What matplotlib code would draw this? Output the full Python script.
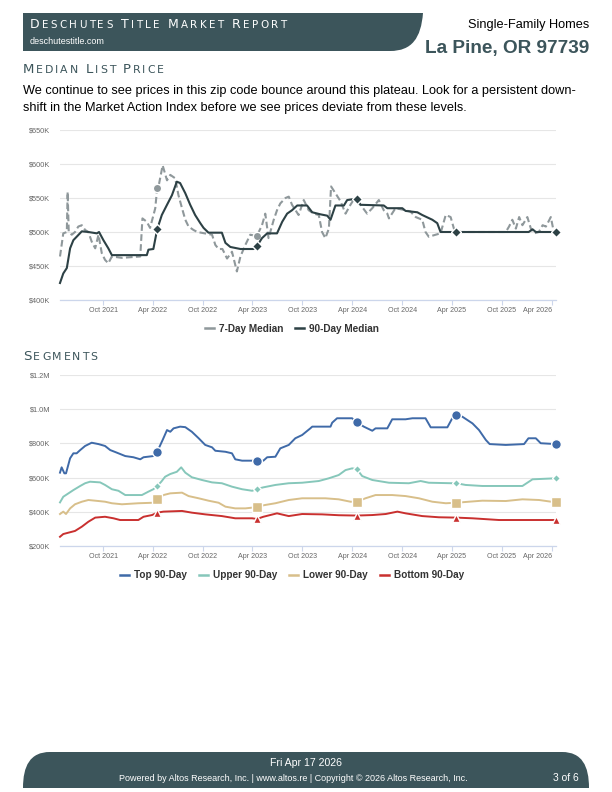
import matplotlib
matplotlib.use("Agg")
import matplotlib.pyplot as plt
from matplotlib.patches import PathPatch
from matplotlib.path import Path
from matplotlib.lines import Line2D
import pandas as pd

# ---------------- data ----------------
MARK_DATES = ["2022-04-17", "2023-04-17", "2024-04-17", "2025-04-17", "2026-04-17"]
X_TICKS = ["2021-10-01", "2022-04-01", "2022-10-01", "2023-04-01", "2023-10-01",
           "2024-04-01", "2024-10-01", "2025-04-01", "2025-10-01", "2026-04-01"]
X_TICK_LABELS = ["Oct 2021", "Apr 2022", "Oct 2022", "Apr 2023", "Oct 2023",
                 "Apr 2024", "Oct 2024", "Apr 2025", "Oct 2025", "Apr 2026"]

# Median list price (thousands of $)
d90_dates = ["2021-04-26", "2021-05-08", "2021-05-21", "2021-06-02", "2021-06-14", "2021-06-26",
             "2021-07-15", "2021-08-08", "2021-09-08", "2021-09-16", "2021-10-02", "2021-10-20",
             "2021-11-02", "2022-03-10", "2022-03-16", "2022-04-03", "2022-04-17", "2022-05-04",
             "2022-05-23", "2022-06-10", "2022-06-28", "2022-07-10", "2022-07-29", "2022-08-16",
             "2022-09-03", "2022-09-22", "2022-10-04", "2022-10-22", "2022-12-10", "2022-12-23",
             "2023-01-10", "2023-02-16", "2023-04-05", "2023-04-17", "2023-05-06", "2023-05-25",
             "2023-06-30", "2023-07-19", "2023-08-06", "2023-08-24", "2023-09-12", "2023-10-18",
             "2023-11-06", "2023-12-06", "2023-12-31", "2024-01-12", "2024-01-30", "2024-03-01",
             "2024-03-13", "2024-04-17", "2024-05-01", "2024-07-25", "2024-08-07", "2024-10-01",
             "2024-10-13", "2024-11-25", "2024-12-13", "2025-01-19", "2025-02-06", "2025-02-18",
             "2025-03-21", "2025-04-17", "2026-01-07", "2026-01-21", "2026-02-02", "2026-04-17"]
d90_vals = [425, 439, 447, 476, 488, 493, 501, 500, 498, 500, 488, 476, 466, 466, 474, 475, 504, 525,
            540, 554, 574, 572, 557, 540, 525, 513, 506, 499, 499, 484, 478, 475, 475, 479, 491, 498,
            498, 515, 527, 532, 539, 539, 529, 526, 524, 518, 539, 539, 547, 549, 540, 539, 535, 535,
            531, 529, 525, 518, 513, 500, 500, 500, 500, 504, 500, 500]

d7_dates = ["2021-04-26", "2021-05-08", "2021-05-21", "2021-05-24", "2021-05-28", "2021-06-08",
            "2021-06-20", "2021-07-02", "2021-07-15", "2021-07-27", "2021-08-08", "2021-08-20",
            "2021-09-02", "2021-09-14", "2021-09-26", "2021-10-08", "2021-10-20", "2021-11-02",
            "2021-12-09", "2022-02-14", "2022-02-22", "2022-03-10", "2022-03-22", "2022-04-10",
            "2022-04-17", "2022-04-22", "2022-05-07", "2022-05-23", "2022-06-04", "2022-06-22",
            "2022-07-04", "2022-07-17", "2022-07-29", "2022-08-10", "2022-08-28", "2022-09-11",
            "2022-11-04", "2022-11-16", "2022-11-28", "2022-12-12", "2022-12-29", "2023-01-16",
            "2023-02-03", "2023-02-16", "2023-03-06", "2023-03-24", "2023-04-17", "2023-05-06",
            "2023-05-18", "2023-05-30", "2023-06-18", "2023-06-30", "2023-07-12", "2023-07-31",
            "2023-08-12", "2023-08-24", "2023-09-17", "2023-10-06", "2023-10-24", "2023-11-12",
            "2023-11-30", "2023-12-12", "2023-12-24", "2024-01-06", "2024-01-14", "2024-01-30",
            "2024-02-18", "2024-03-07", "2024-03-25", "2024-04-05", "2024-05-01", "2024-05-25",
            "2024-06-13", "2024-07-07", "2024-07-25", "2024-08-07", "2024-08-13", "2024-09-06",
            "2024-10-13", "2024-10-31", "2024-11-19", "2024-12-13", "2024-12-25", "2025-01-06",
            "2025-01-31", "2025-02-18", "2025-03-09", "2025-03-27", "2025-04-08", "2025-05-03",
            "2025-10-15", "2025-10-27", "2025-11-08", "2025-11-21", "2025-12-03", "2025-12-15",
            "2026-01-02", "2026-01-15", "2026-01-27", "2026-02-13", "2026-02-27", "2026-03-11",
            "2026-03-29", "2026-04-09"]
d7_vals = [464, 498, 500, 559, 500, 496, 500, 508, 510, 503, 500, 486, 476, 496, 469, 459, 454, 464,
           462, 464, 520, 515, 506, 535, 565, 567, 598, 576, 584, 579, 554, 535, 518, 508, 503, 500,
           496, 481, 475, 475, 461, 471, 442, 464, 481, 496, 494, 510, 527, 491, 518, 532, 542, 550,
           552, 540, 525, 547, 532, 527, 525, 500, 491, 505, 567, 557, 545, 527, 540, 547, 540, 527,
           535, 547, 532, 527, 520, 535, 532, 530, 522, 518, 500, 493, 496, 498, 525, 522, 505, 500,
           500, 508, 518, 505, 522, 510, 522, 505, 498, 500, 510, 508, 522, 500]
d7_mark_dates = ["2022-04-17", "2023-04-17"]

# Segments (thousands of $)
top_dates = ["2021-04-26", "2021-05-02", "2021-05-12", "2021-05-18", "2021-06-02", "2021-06-14",
             "2021-06-26", "2021-07-09", "2021-07-27", "2021-08-20", "2021-09-14", "2021-10-08",
             "2021-10-27", "2021-11-20", "2021-12-21", "2022-01-20", "2022-02-14", "2022-02-26",
             "2022-04-03", "2022-04-17", "2022-05-07", "2022-05-23", "2022-06-04", "2022-06-16",
             "2022-07-10", "2022-07-29", "2022-08-22", "2022-09-16", "2022-10-10", "2022-11-04",
             "2022-11-16", "2022-12-23", "2023-01-16", "2023-01-28", "2023-02-22", "2023-03-31",
             "2023-04-17", "2023-05-11", "2023-05-25", "2023-06-24", "2023-07-12", "2023-08-12",
             "2023-09-05", "2023-09-30", "2023-10-30", "2023-11-06", "2024-01-12", "2024-01-18",
             "2024-02-05", "2024-03-31", "2024-04-17", "2024-05-13", "2024-06-13", "2024-06-25",
             "2024-08-07", "2024-08-25", "2024-10-13", "2024-11-07", "2024-12-25", "2025-01-13",
             "2025-03-15", "2025-04-02", "2025-04-17", "2025-05-09", "2025-06-15", "2025-07-09",
             "2025-08-03", "2025-08-17", "2025-10-15", "2025-12-21", "2026-01-06", "2026-02-02",
             "2026-02-20", "2026-04-17"]
top_vals = [629, 660, 625, 625, 713, 742, 742, 761, 785, 804, 796, 785, 761, 746, 726, 719, 707, 719,
            726, 751, 820, 878, 868, 888, 898, 895, 868, 830, 791, 777, 757, 751, 742, 707, 699, 699,
            699, 699, 719, 722, 771, 791, 830, 849, 888, 898, 898, 921, 947, 947, 923, 898, 874, 888,
            888, 941, 941, 947, 947, 894, 894, 947, 966, 956, 917, 878, 820, 796, 791, 796, 830, 830,
            801, 796]

upper_dates = ["2021-04-26", "2021-05-08", "2021-05-27", "2021-06-14", "2021-07-09", "2021-07-27",
               "2021-08-14", "2021-09-20", "2021-10-08", "2021-11-02", "2021-11-26", "2021-12-21",
               "2022-02-20", "2022-03-16", "2022-04-03", "2022-04-17", "2022-05-02", "2022-05-16",
               "2022-06-04", "2022-06-28", "2022-07-14", "2022-07-29", "2022-08-22", "2022-09-28",
               "2022-11-04", "2022-12-10", "2023-01-16", "2023-02-22", "2023-03-31", "2023-04-17",
               "2023-05-11", "2023-06-24", "2023-08-12", "2023-09-30", "2023-11-30", "2024-01-06",
               "2024-02-11", "2024-03-07", "2024-03-31", "2024-04-17", "2024-05-07", "2024-06-13",
               "2024-08-13", "2024-10-25", "2024-12-07", "2025-01-06", "2025-04-02", "2025-04-17",
               "2025-05-21", "2025-07-21", "2025-12-15", "2026-01-21", "2026-04-17"]
upper_vals = [455, 488, 508, 527, 551, 567, 576, 572, 557, 532, 523, 498, 498, 518, 532, 551, 576,
              605, 621, 634, 660, 629, 602, 586, 572, 567, 547, 532, 523, 533, 543, 557, 567, 570,
              580, 596, 615, 644, 654, 650, 609, 586, 570, 567, 580, 570, 567, 567, 557, 551, 551,
              590, 596]

lower_dates = ["2021-04-26", "2021-05-08", "2021-05-18", "2021-06-02", "2021-06-20", "2021-07-15",
               "2021-08-08", "2021-09-14", "2021-10-08", "2021-11-02", "2021-12-09", "2022-02-07",
               "2022-04-03", "2022-04-17", "2022-05-10", "2022-06-04", "2022-07-17", "2022-08-10",
               "2022-09-16", "2022-10-22", "2022-11-28", "2022-12-23", "2023-01-28", "2023-03-06",
               "2023-04-04", "2023-04-17", "2023-05-18", "2023-06-24", "2023-08-12", "2023-09-30",
               "2023-12-24", "2024-02-11", "2024-03-25", "2024-04-17", "2024-05-19", "2024-06-25",
               "2024-08-25", "2024-10-13", "2024-12-01", "2025-01-19", "2025-03-09", "2025-04-17",
               "2025-06-02", "2025-07-21", "2025-10-15", "2025-12-15", "2026-02-14", "2026-04-17"]
lower_vals = [387, 401, 387, 420, 444, 459, 469, 463, 459, 450, 444, 450, 453, 473, 498, 508, 512,
              492, 479, 465, 453, 430, 420, 420, 425, 430, 440, 450, 469, 479, 479, 473, 459, 459,
              479, 498, 498, 492, 479, 459, 450, 453, 459, 465, 463, 473, 469, 455]

bottom_dates = ["2021-04-26", "2021-05-08", "2021-05-27", "2021-06-20", "2021-07-15", "2021-08-08",
                "2021-09-02", "2021-10-08", "2021-11-08", "2021-12-02", "2022-02-07", "2022-02-26",
                "2022-03-29", "2022-04-17", "2022-05-10", "2022-07-17", "2022-08-22", "2022-10-10",
                "2022-12-10", "2023-01-28", "2023-03-31", "2023-04-17", "2023-05-11", "2023-06-30",
                "2023-08-12", "2023-09-30", "2023-12-12", "2024-02-11", "2024-04-17", "2024-06-13",
                "2024-08-01", "2024-09-13", "2024-10-13", "2024-12-13", "2025-02-12", "2025-04-17",
                "2025-06-15", "2025-09-20", "2026-04-17"]
bottom_vals = [254, 270, 278, 288, 313, 342, 366, 371, 362, 352, 352, 371, 381, 395, 401, 405, 395,
               385, 375, 362, 362, 358, 371, 391, 375, 387, 385, 380, 378, 381, 387, 401, 391, 375,
               368, 366, 362, 352, 352]

# ---------------- style ----------------
W, H = 612, 792
SLATE = "#3c555b"
C7 = "#8f989b"
C90 = "#2d4145"
C_TOP, C_UP, C_LOW, C_BOT = "#3f6aa8", "#86c7ba", "#d8bf8a", "#c9302f"
GRID = "#e6e6e6"
AXC = "#ccd6eb"
SANS = "Liberation Sans"
CAPS = "DejaVu Sans"

fig = plt.figure(figsize=(W / 100, H / 100), dpi=100)
bg = fig.add_axes([0, 0, 1, 1])
bg.set_xlim(0, W)
bg.set_ylim(H, 0)
bg.axis("off")
renderer = fig.canvas.get_renderer()

# header banner
hv = [(23, 13), (423, 13), (421, 38), (412, 51), (390, 51), (23, 51), (23, 13)]
hc = [Path.MOVETO, Path.LINETO, Path.CURVE4, Path.CURVE4, Path.CURVE4, Path.LINETO, Path.CLOSEPOLY]
bg.add_patch(PathPatch(Path(hv, hc), facecolor=SLATE, edgecolor="none"))

# footer banner
fv = [(23, 788), (23, 766), (30, 752), (50, 752), (562, 752), (582, 752), (589, 766), (589, 788),
      (23, 788)]
fc = [Path.MOVETO, Path.CURVE4, Path.CURVE4, Path.CURVE4, Path.LINETO, Path.CURVE4, Path.CURVE4,
      Path.CURVE4, Path.CLOSEPOLY]
bg.add_patch(PathPatch(Path(fv, fc), facecolor=SLATE, edgecolor="none"))

_adv_cache = {}


def advance(ch, size):
    key = (ch, size)
    if key not in _adv_cache:
        t1 = bg.text(0, 0, "H" + ch + "H", fontsize=size, family=CAPS)
        t2 = bg.text(0, 0, "HH", fontsize=size, family=CAPS)
        w = t1.get_window_extent(renderer).width - t2.get_window_extent(renderer).width
        t1.remove()
        t2.remove()
        _adv_cache[key] = w
    return _adv_cache[key]


def smallcaps(x, y, s, big, ratio, color, track):
    cx = x
    for ch in s:
        if ch == " ":
            cx += advance(" ", big) + track
            continue
        size = big * ratio if (ch.isalpha() and ch.islower()) else big
        c = ch.upper()
        bg.text(cx, y, c, fontsize=size, color=color, family=CAPS, va="baseline", ha="left")
        cx += advance(c, size) + track


smallcaps(30, 28, "Deschutes Title Market Report", 9.0, 0.82, "white", 2.3)
bg.text(30, 43.5, "deschutestitle.com", fontsize=6.5, color="white", family=SANS, va="baseline")
bg.text(589, 28, "Single-Family Homes", fontsize=9.2, color="black", family=SANS,
        ha="right", va="baseline")
bg.text(589, 53.5, "La Pine, OR 97739", fontsize=13.7, color=SLATE, family=SANS,
        weight="bold", ha="right", va="baseline")

smallcaps(23, 73, "Median List Price", 9.6, 0.82, SLATE, 1.8)
bg.text(23, 94, "We continue to see prices in this zip code bounce around this plateau. "
        "Look for a persistent down-", fontsize=9.22, family=SANS, va="baseline", color="black")
bg.text(23, 111.5, "shift in the Market Action Index before we see prices deviate from these levels.",
        fontsize=9.22, family=SANS, va="baseline", color="black")
smallcaps(23, 359.5, "Segments", 9.6, 0.82, SLATE, 1.8)

bg.text(306, 766, "Fri Apr 17 2026", fontsize=7.6, color="white", family=SANS,
        ha="center", va="baseline")
bg.text(293, 781, "Powered by Altos Research, Inc. | www.altos.re | Copyright \u00a9 2026 Altos Research, Inc.",
        fontsize=6.5, color="white", family=SANS, ha="center", va="baseline")
bg.text(579, 781, "3 of 6", fontsize=7.4, color="white", family=SANS, ha="right", va="baseline")

xmin = pd.Timestamp(d90_dates[0])
xmax = pd.Timestamp(d90_dates[-1])
xt = pd.to_datetime(X_TICKS)


def style_axes(ax, ylo, yhi, ystep, fmt):
    ax.set_xlim(xmin, xmax)
    ax.set_ylim(ylo, yhi)
    yt = list(range(ylo, yhi + 1, ystep))
    ax.set_yticks(yt)
    ax.set_yticklabels([fmt(v) for v in yt])
    ax.set_xticks(xt)
    ax.set_xticklabels(X_TICK_LABELS)
    for sp in ["top", "right", "left"]:
        ax.spines[sp].set_visible(False)
    ax.spines["bottom"].set_color(AXC)
    ax.spines["bottom"].set_linewidth(0.9)
    ax.grid(axis="y", color=GRID, lw=0.8)
    ax.set_axisbelow(True)
    ax.tick_params(axis="y", length=0, pad=7, labelsize=5.3, labelcolor="#666666")
    ax.tick_params(axis="x", length=3.6, width=0.8, color=AXC, pad=1.5, labelsize=5.1,
                   labelcolor="#666666")
    for lab in ax.get_xticklabels() + ax.get_yticklabels():
        lab.set_family(SANS)
    ax.get_xticklabels()[-1].set_ha("right")
    ax.patch.set_alpha(0)


def idx_of(dates, marks):
    return [i for i, d in enumerate(dates) if d in marks]


# ---------------- chart 1 ----------------
ax1 = fig.add_axes([60 / W, 1 - 300 / H, 496 / W, 170 / H])
style_axes(ax1, 400, 650, 50, lambda v: f"${v}K")
ax1.plot(pd.to_datetime(d7_dates), d7_vals, color=C7, lw=1.5, ls=(0, (3.2, 1.6)),
         marker="o", ms=6, mfc=C7, mec="white", mew=1.0,
         markevery=idx_of(d7_dates, d7_mark_dates), clip_on=False, zorder=3)
ax1.plot(pd.to_datetime(d90_dates), d90_vals, color=C90, lw=1.5,
         marker="D", ms=5, mfc=C90, mec="white", mew=1.0,
         markevery=idx_of(d90_dates, MARK_DATES), clip_on=False, zorder=4)

leg1 = [Line2D([], [], color=C7, lw=1.8), Line2D([], [], color=C90, lw=1.8)]
fig.legend(leg1, ["7-Day Median", "90-Day Median"], loc="center",
           bbox_to_anchor=(292 / W, 1 - 328.5 / H), ncol=2, frameon=False,
           handlelength=0.9, handletextpad=0.5, columnspacing=1.2,
           prop={"family": SANS, "weight": "bold", "size": 7.2}, labelcolor="#333333")

# ---------------- chart 2 ----------------
ax2 = fig.add_axes([60 / W, 1 - 546 / H, 496 / W, 171 / H])
style_axes(ax2, 200, 1200, 200, lambda v: f"${v}K" if v < 1000 else f"${v / 1000:.1f}M")
series = [
    (top_dates, top_vals, C_TOP, "o", 7, "Top 90-Day"),
    (upper_dates, upper_vals, C_UP, "D", 4.5, "Upper 90-Day"),
    (lower_dates, lower_vals, C_LOW, "s", 6.5, "Lower 90-Day"),
    (bottom_dates, bottom_vals, C_BOT, "^", 6, "Bottom 90-Day"),
]
handles = []
for dts, vals, col, mk, ms, name in series:
    ax2.plot(pd.to_datetime(dts), vals, color=col, lw=1.4, marker=mk, ms=ms, mfc=col,
             mec="white", mew=1.0, markevery=idx_of(dts, MARK_DATES), clip_on=False, zorder=3)
    handles.append(Line2D([], [], color=col, lw=1.8))
fig.legend(handles, [s[5] for s in series], loc="center",
           bbox_to_anchor=(292 / W, 1 - 575 / H), ncol=4, frameon=False,
           handlelength=0.9, handletextpad=0.5, columnspacing=1.2,
           prop={"family": SANS, "weight": "bold", "size": 7.2}, labelcolor="#333333")

fig.savefig("out.png", dpi=100)
